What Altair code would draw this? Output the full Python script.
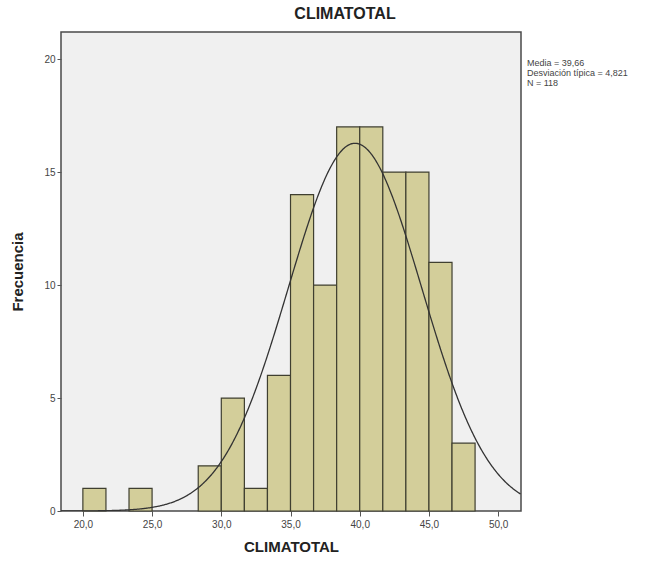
import altair as alt
import pandas as pd

# Histogram bins (width 5/3) and counts
bin_start = [20.0, 21.667, 23.333, 25.0, 26.667, 28.333, 30.0, 31.667, 33.333,
             35.0, 36.667, 38.333, 40.0, 41.667, 43.333, 45.0, 46.667]
bin_end = [21.667, 23.333, 25.0, 26.667, 28.333, 30.0, 31.667, 33.333, 35.0,
           36.667, 38.333, 40.0, 41.667, 43.333, 45.0, 46.667, 48.333]
counts = [1, 0, 1, 0, 0, 2, 5, 1, 6, 14, 10, 17, 17, 15, 15, 11, 3]

# Summary statistics shown on the chart
mean_val = 39.66
sd_val = 4.821
n_val = 118
bin_width = 5 / 3

stats_lines = ["Media = 39,66", "Desviación típica = 4,821", "N = 118"]

x_ticks = [20, 25, 30, 35, 40, 45, 50]
y_ticks = [0, 5, 10, 15, 20]
x_domain = [18.42, 51.65]
y_domain = [0, 21.2]

bars = pd.DataFrame({"start": bin_start, "end": bin_end, "count": counts})
bars = bars[bars["count"] > 0]

FONT = "Liberation Sans"

xscale = alt.Scale(domain=x_domain, nice=False, zero=False)
yscale = alt.Scale(domain=y_domain, nice=False)

xaxis = alt.Axis(values=x_ticks, title="CLIMATOTAL", grid=False, domain=False,
                 labelExpr="replace(format(datum.value, '.1f'), '.', ',')",
                 tickSize=5, tickColor="#555555", labelFontSize=10,
                 labelColor="#444444", labelFont=FONT, labelPadding=3,
                 titleFont=FONT, titleFontSize=15, titleFontWeight="bold",
                 titleColor="#222222", titlePadding=10)
yaxis = alt.Axis(values=y_ticks, title="Frecuencia", grid=False, domain=False,
                 tickSize=4, tickColor="#555555", labelFontSize=10,
                 labelColor="#444444", labelFont=FONT, labelPadding=2,
                 titleFont=FONT, titleFontSize=15, titleFontWeight="bold",
                 titleColor="#222222", titlePadding=18)

bar_layer = alt.Chart(bars).mark_rect(
    fill="#d3ce9a", stroke="#3f3f30", strokeWidth=1.2
).encode(
    x=alt.X("start:Q", scale=xscale, axis=xaxis),
    x2="end:Q",
    y=alt.Y("count:Q", scale=yscale, axis=yaxis),
    y2=alt.datum(0),
)

curve = alt.Chart(alt.sequence(start=x_domain[0], stop=x_domain[1], step=0.05, as_="v")).transform_calculate(
    dens=f"{n_val} * {bin_width} / ({sd_val} * sqrt(2*PI)) * exp(-0.5 * pow((datum.v - {mean_val}) / {sd_val}, 2))"
).mark_line(color="#333333", strokeWidth=1.3, clip=True).encode(
    x=alt.X("v:Q", scale=xscale),
    y=alt.Y("dens:Q", scale=yscale, axis=None),
)

stats_df = pd.DataFrame({"line": stats_lines, "i": [0, 1, 2]})
stats = alt.Chart(stats_df).mark_text(
    align="left", baseline="middle", fontSize=9, font=FONT, color="#444444"
).encode(
    x=alt.value(466),
    y=alt.Y("i:Q", scale=alt.Scale(domain=[0, 2], range=[31, 51]), axis=None),
    text="line:N",
)

chart = alt.layer(bar_layer, curve, stats).resolve_scale(y="independent").properties(
    width=460,
    height=479,
    padding={"left": 61, "top": 32, "right": 141, "bottom": 52},
    autosize=alt.AutoSizeParams(type="none"),
    title=alt.TitleParams("CLIMATOTAL", font=FONT, fontSize=16, fontWeight="bold",
                          color="#222222", anchor="middle", dx=54, offset=10),
).configure_view(
    fill="#f0f0f0", stroke="#4a4a4a", strokeWidth=1.5
)

chart.save("out.html", embed_options={"renderer": "svg", "actions": False})
